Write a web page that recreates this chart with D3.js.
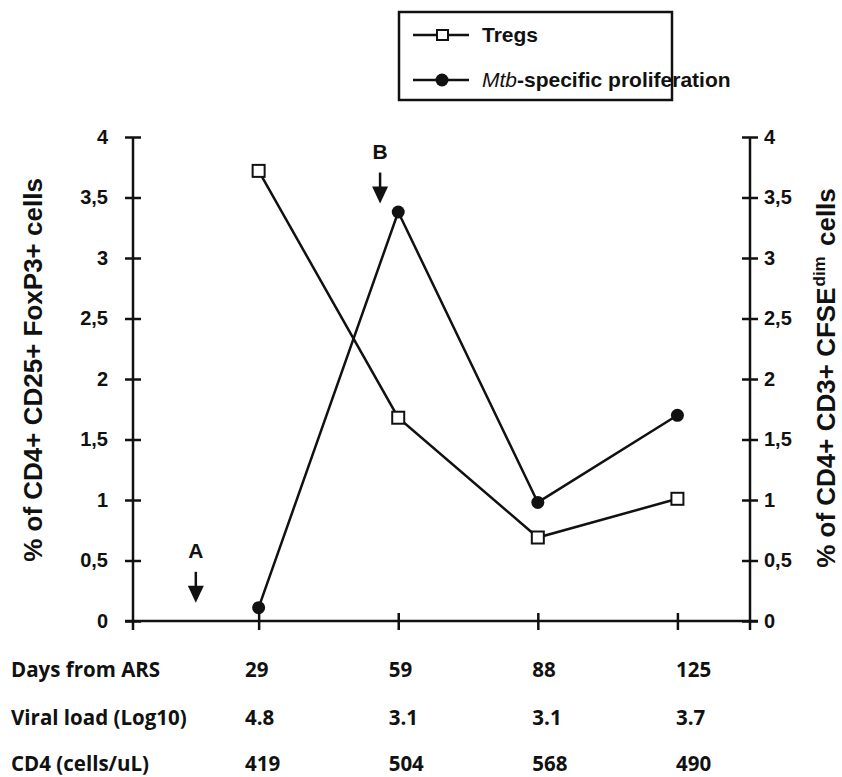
<!DOCTYPE html>
<html>
<head>
<meta charset="utf-8">
<script src="https://cdn.jsdelivr.net/npm/d3@7"></script>
<style>
  body { margin: 0; background: #fff; }
  text { font-family: "Liberation Sans", Arial, sans-serif; font-weight: bold; fill: #111; }
  .tbl { font-family: "Open Sans", Lato, sans-serif; }
</style>
</head>
<body>
<script>
'use strict';

// categories + table rows
const days = ['29', '59', '88', '125'];
const viralLoad = ['4.8', '3.1', '3.1', '3.7'];
const cd4Counts = ['419', '504', '568', '490'];
const rowLabels = ['Days from ARS', 'Viral load (Log10)', 'CD4 (cells/uL)'];

// series values (left axis: Tregs, right axis: proliferation)
const tregs = [3.72, 1.68, 0.69, 1.01];
const mtbProlif = [0.11, 3.38, 0.98, 1.70];

// tick labels
const yTicks = [0, 0.5, 1, 1.5, 2, 2.5, 3, 3.5, 4];

// arrows A and B (position in category index, tip value)
const annotations = [
  { label: 'A', at: -0.45, value: 0.15 },
  { label: 'B', at: 0.87, value: 3.45 }
];

(function () {
  const W = 842, H = 777;
  const svg = d3.select('body').append('svg')
    .attr('width', W)
    .attr('height', H);

  const left = 133, right = 750, top = 137, bottom = 621;

  // x: category index
  const x = d3.scaleLinear().domain([-0.9, 3.52]).range([left, right]);
  const yL = d3.scaleLinear().domain([0, 4]).range([bottom, top]);
  const yR = d3.scaleLinear().domain([0, 4]).range([bottom, top]);
  // table columns are left aligned, a bit off the ticks
  const colX = d3.scaleLinear().domain([0, 3]).range([245, 676]);

  const fmt = d => String(d).replace('.', ',');

  // left axis
  const gL = svg.append('g')
    .attr('transform', `translate(${left},0)`)
    .call(d3.axisLeft(yL).tickValues(yTicks).tickFormat(fmt).tickSize(8).tickSizeOuter(0).tickPadding(17));
  gL.select('.domain').attr('d', `M0,${top}V${bottom + 9}`);
  gL.selectAll('.tick line').attr('x1', 8);

  // right axis
  const gR = svg.append('g')
    .attr('transform', `translate(${right},0)`)
    .call(d3.axisRight(yR).tickValues(yTicks).tickFormat(fmt).tickSize(8).tickSizeOuter(0).tickPadding(6));
  gR.select('.domain').attr('d', `M0,${top}V${bottom + 9}`);
  gR.selectAll('.tick line').attr('x1', -8);

  // bottom axis
  const gX = svg.append('g')
    .attr('transform', `translate(0,${bottom})`)
    .call(d3.axisBottom(x).tickValues(d3.range(days.length)).tickFormat('').tickSize(9).tickSizeOuter(0));
  gX.select('.domain').attr('d', `M${left - 8},0H${right + 8}`);
  gX.selectAll('.tick line').attr('y1', -8);

  svg.selectAll('.domain, .tick line')
    .attr('stroke', '#111')
    .attr('stroke-width', 2.5);
  svg.selectAll('.tick text')
    .style('font-family', '"Liberation Sans", Arial, sans-serif')
    .style('font-weight', 'bold')
    .style('font-size', '20px')
    .attr('fill', '#111');

  // axis titles
  svg.append('text')
    .attr('transform', `translate(42, 370)rotate(-90)`)
    .attr('text-anchor', 'middle')
    .style('font-size', '26px')
    .text('% of CD4+ CD25+ FoxP3+ cells');

  const rt = svg.append('text')
    .attr('transform', `translate(835, 378)rotate(-90)`)
    .attr('text-anchor', 'middle')
    .style('font-size', '26px');
  rt.append('tspan').text('% of CD4+ CD3+ CFSE');
  rt.append('tspan').attr('dy', -10).attr('dx', 1).style('font-size', '17px').text('dim');
  rt.append('tspan').attr('dy', 10).attr('dx', 3).text(' cells');

  // lines
  const lineL = d3.line().x((d, i) => x(i)).y(d => yL(d));
  const lineR = d3.line().x((d, i) => x(i)).y(d => yR(d));

  svg.append('path')
    .datum(tregs)
    .attr('fill', 'none')
    .attr('stroke', '#111')
    .attr('stroke-width', 2.5)
    .attr('d', lineL);

  svg.append('path')
    .datum(mtbProlif)
    .attr('fill', 'none')
    .attr('stroke', '#111')
    .attr('stroke-width', 2.5)
    .attr('d', lineR);

  svg.selectAll('.sq')
    .data(tregs)
    .enter()
    .append('rect')
    .attr('x', (d, i) => x(i) - 6)
    .attr('y', d => yL(d) - 6)
    .attr('width', 12)
    .attr('height', 12)
    .attr('fill', '#fff')
    .attr('stroke', '#111')
    .attr('stroke-width', 2);

  svg.selectAll('.dot')
    .data(mtbProlif)
    .enter()
    .append('circle')
    .attr('cx', (d, i) => x(i))
    .attr('cy', d => yR(d))
    .attr('r', 6.5)
    .attr('fill', '#111');

  // arrows
  annotations.forEach(a => {
    const ax = x(a.at), tip = yL(a.value);
    svg.append('line')
      .attr('x1', ax).attr('x2', ax)
      .attr('y1', tip - 31).attr('y2', tip - 14)
      .attr('stroke', '#111').attr('stroke-width', 2.5);
    svg.append('path')
      .attr('d', `M${ax - 8},${tip - 17}L${ax + 8},${tip - 17}L${ax},${tip}Z`)
      .attr('fill', '#111');
    svg.append('text')
      .attr('x', ax)
      .attr('y', tip - 45)
      .attr('text-anchor', 'middle')
      .style('font-size', '21px')
      .text(a.label);
  });

  // legend
  const lg = svg.append('g');
  lg.append('rect')
    .attr('x', 399).attr('y', 12)
    .attr('width', 273).attr('height', 88)
    .attr('fill', '#fff')
    .attr('stroke', '#111')
    .attr('stroke-width', 2.5);
  [35, 80].forEach((ly, k) => {
    lg.append('line')
      .attr('x1', 413).attr('x2', 469)
      .attr('y1', ly).attr('y2', ly)
      .attr('stroke', '#111').attr('stroke-width', 2.5);
    if (k === 0) {
      lg.append('rect')
        .attr('x', 437).attr('y', ly - 5)
        .attr('width', 11).attr('height', 10)
        .attr('fill', '#fff').attr('stroke', '#111').attr('stroke-width', 2);
    } else {
      lg.append('circle').attr('cx', 442).attr('cy', ly).attr('r', 6.5).attr('fill', '#111');
    }
  });
  lg.append('text')
    .attr('x', 482).attr('y', 42)
    .style('font-size', '21px')
    .text('Tregs');
  const t2 = lg.append('text')
    .attr('x', 482).attr('y', 87)
    .style('font-size', '21px');
  t2.append('tspan').style('font-style', 'italic').style('font-weight', 'normal').text('Mtb');
  t2.append('tspan').text('-specific proliferation');

  // table under the axis
  const rows = [days, viralLoad, cd4Counts];
  const rowY = [677, 725, 771];
  rows.forEach((vals, r) => {
    svg.append('text')
      .attr('class', 'tbl')
      .attr('x', 11)
      .attr('y', rowY[r])
      .style('font-size', '20.5px')
      .text(rowLabels[r]);
    svg.selectAll('.cell' + r)
      .data(vals)
      .enter()
      .append('text')
      .attr('class', 'tbl')
      .attr('x', (d, i) => colX(i))
      .attr('y', rowY[r])
      .style('font-size', '20.5px')
      .text(d => d);
  });
})();
</script>
</body>
</html>
